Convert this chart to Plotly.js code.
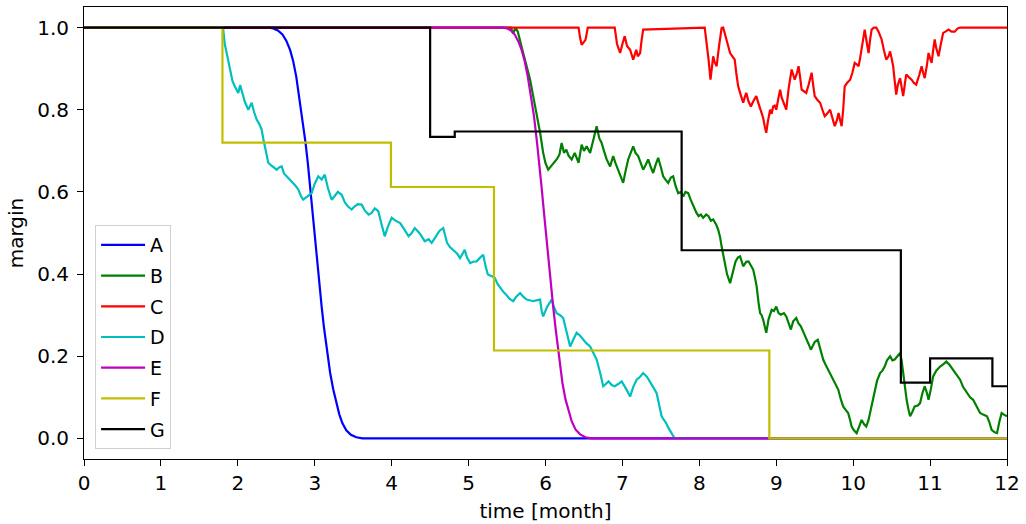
<!DOCTYPE html>
<html>
<head>
<meta charset="utf-8">
<script src="https://cdn.plot.ly/plotly-3.0.1.min.js"></script>
<style>html,body{margin:0;padding:0;background:#fff;}#chart{width:1026px;height:524px;}</style>
</head>
<body>
<div id="chart"></div>
<script>
// Series A (blue)
const A_x = [0, 2.4, 2.46, 2.52, 2.58, 2.63, 2.68, 2.72, 2.76, 2.8, 2.84, 2.88, 2.91, 2.94, 2.97, 3.0, 3.03, 3.06, 3.09, 3.12, 3.16, 3.2, 3.24, 3.28, 3.32, 3.36, 3.41, 3.47, 3.54, 3.62, 12];
const A_y = [1, 1, 0.998, 0.993, 0.983, 0.968, 0.945, 0.918, 0.88, 0.83, 0.78, 0.72, 0.67, 0.61, 0.55, 0.49, 0.43, 0.37, 0.32, 0.27, 0.21, 0.16, 0.12, 0.085, 0.058, 0.037, 0.02, 0.009, 0.003, 0, 0];

// Series B (green)
const B_x = [0, 5.55, 5.58, 5.61, 5.64, 5.67, 5.71, 5.755, 5.8, 5.84, 5.885, 5.93, 5.97, 6.0, 6.035, 6.06, 6.08, 6.11, 6.145, 6.18, 6.21, 6.24, 6.27, 6.3, 6.34, 6.38, 6.43, 6.47, 6.5, 6.535, 6.58, 6.62, 6.665, 6.7, 6.73, 6.76, 6.795, 6.84, 6.88, 6.91, 6.946, 7.01, 7.04, 7.075, 7.14, 7.17, 7.205, 7.24, 7.27, 7.3, 7.335, 7.37, 7.4, 7.43, 7.465, 7.5, 7.53, 7.56, 7.595, 7.63, 7.66, 7.69, 7.725, 7.76, 7.79, 7.82, 7.855, 7.89, 7.92, 7.96, 7.99, 8.02, 8.05, 8.09, 8.12, 8.15, 8.18, 8.22, 8.245, 8.27, 8.29, 8.31, 8.33, 8.36, 8.4, 8.44, 8.47, 8.5, 8.53, 8.57, 8.61, 8.64, 8.67, 8.7, 8.725, 8.745, 8.77, 8.79, 8.81, 8.83, 8.87, 8.9, 8.94, 8.97, 9.0, 9.03, 9.06, 9.1, 9.13, 9.16, 9.19, 9.22, 9.26, 9.29, 9.32, 9.35, 9.39, 9.42, 9.45, 9.5, 9.54, 9.58, 9.61, 9.64, 9.675, 9.71, 9.74, 9.77, 9.806, 9.84, 9.87, 9.9, 9.935, 9.96, 9.98, 10.01, 10.045, 10.08, 10.11, 10.14, 10.17, 10.2, 10.22, 10.25, 10.28, 10.31, 10.35, 10.38, 10.41, 10.44, 10.48, 10.51, 10.54, 10.58, 10.61, 10.63, 10.65, 10.67, 10.695, 10.72, 10.74, 10.77, 10.8, 10.84, 10.87, 10.9, 10.93, 10.96, 10.98, 11.01, 11.04, 11.08, 11.13, 11.17, 11.21, 11.25, 11.3, 11.34, 11.39, 11.43, 11.48, 11.52, 11.56, 11.6, 11.65, 11.69, 11.74, 11.77, 11.8, 11.84, 11.87, 11.9, 11.93, 11.96, 12.0];
const B_y = [1, 1, 0.985, 1, 0.99, 0.97, 0.938, 0.906, 0.873, 0.833, 0.792, 0.744, 0.695, 0.67, 0.654, 0.66, 0.662, 0.67, 0.679, 0.69, 0.719, 0.695, 0.703, 0.688, 0.679, 0.695, 0.671, 0.715, 0.7, 0.711, 0.695, 0.725, 0.76, 0.73, 0.719, 0.7, 0.679, 0.662, 0.687, 0.67, 0.654, 0.622, 0.65, 0.679, 0.711, 0.695, 0.687, 0.67, 0.654, 0.665, 0.679, 0.66, 0.646, 0.665, 0.683, 0.66, 0.638, 0.63, 0.622, 0.635, 0.638, 0.615, 0.597, 0.6, 0.589, 0.6, 0.597, 0.58, 0.565, 0.55, 0.541, 0.545, 0.537, 0.545, 0.541, 0.53, 0.533, 0.52, 0.508, 0.49, 0.467, 0.45, 0.43, 0.4, 0.378, 0.41, 0.43, 0.44, 0.443, 0.419, 0.43, 0.431, 0.42, 0.411, 0.39, 0.37, 0.33, 0.305, 0.3, 0.289, 0.257, 0.29, 0.313, 0.31, 0.321, 0.305, 0.301, 0.305, 0.297, 0.28, 0.265, 0.285, 0.293, 0.28, 0.273, 0.26, 0.24, 0.23, 0.216, 0.235, 0.24, 0.21, 0.192, 0.18, 0.167, 0.155, 0.143, 0.13, 0.119, 0.095, 0.078, 0.07, 0.062, 0.045, 0.029, 0.02, 0.013, 0.03, 0.045, 0.035, 0.029, 0.045, 0.062, 0.09, 0.119, 0.14, 0.159, 0.165, 0.175, 0.19, 0.2, 0.19, 0.192, 0.2, 0.208, 0.19, 0.159, 0.13, 0.094, 0.07, 0.054, 0.065, 0.078, 0.08, 0.086, 0.11, 0.127, 0.11, 0.094, 0.12, 0.151, 0.165, 0.175, 0.18, 0.187, 0.18, 0.167, 0.155, 0.143, 0.125, 0.11, 0.1, 0.094, 0.08, 0.062, 0.058, 0.054, 0.04, 0.021, 0.015, 0.013, 0.04, 0.062, 0.058, 0.054];

// Series C (red)
const C_x = [0, 6.43, 6.45, 6.47, 6.5, 6.52, 6.55, 6.9, 6.93, 6.97, 7.0, 7.03, 7.06, 7.1, 7.14, 7.18, 7.2, 7.23, 7.25, 7.27, 8.07, 8.1, 8.12, 8.145, 8.18, 8.2, 8.225, 8.26, 8.29, 8.31, 8.33, 8.37, 8.4, 8.43, 8.46, 8.48, 8.505, 8.54, 8.57, 8.59, 8.61, 8.64, 8.67, 8.7, 8.74, 8.77, 8.8, 8.83, 8.85, 8.87, 8.89, 8.92, 8.94, 8.96, 8.98, 9.0, 9.03, 9.05, 9.07, 9.09, 9.11, 9.13, 9.16, 9.2, 9.22, 9.24, 9.27, 9.29, 9.31, 9.33, 9.36, 9.39, 9.42, 9.46, 9.48, 9.5, 9.53, 9.57, 9.6, 9.63, 9.66, 9.7, 9.73, 9.76, 9.79, 9.81, 9.83, 9.85, 9.87, 9.89, 9.92, 9.96, 9.99, 10.02, 10.05, 10.07, 10.09, 10.11, 10.13, 10.15, 10.18, 10.2, 10.22, 10.24, 10.27, 10.3, 10.33, 10.37, 10.4, 10.43, 10.46, 10.48, 10.5, 10.52, 10.54, 10.56, 10.58, 10.61, 10.63, 10.65, 10.67, 10.69, 10.72, 10.76, 10.79, 10.82, 10.86, 10.89, 10.91, 10.93, 10.96, 10.98, 11.0, 11.02, 11.04, 11.06, 11.08, 11.11, 11.14, 11.17, 11.2, 11.24, 11.28, 11.32, 11.36, 11.39, 12];
const C_y = [1, 1, 0.975, 0.958, 0.965, 0.97, 1, 1, 0.96, 0.938, 0.96, 0.979, 0.955, 0.946, 0.922, 0.946, 0.93, 0.938, 0.97, 0.995, 1, 0.96, 0.922, 0.873, 0.93, 0.915, 0.906, 0.96, 0.999, 1, 0.987, 0.96, 0.938, 0.93, 0.922, 0.89, 0.857, 0.835, 0.817, 0.83, 0.841, 0.82, 0.808, 0.82, 0.833, 0.815, 0.8, 0.78, 0.76, 0.744, 0.77, 0.8, 0.79, 0.808, 0.81, 0.8, 0.83, 0.849, 0.83, 0.817, 0.81, 0.8, 0.85, 0.898, 0.885, 0.873, 0.89, 0.906, 0.88, 0.849, 0.845, 0.841, 0.86, 0.89, 0.86, 0.833, 0.825, 0.817, 0.8, 0.784, 0.79, 0.8, 0.78, 0.76, 0.775, 0.792, 0.775, 0.76, 0.8, 0.857, 0.865, 0.873, 0.89, 0.914, 0.91, 0.906, 0.925, 0.946, 0.975, 0.995, 0.96, 0.938, 0.97, 0.995, 1, 1, 0.99, 0.971, 0.945, 0.922, 0.93, 0.942, 0.925, 0.906, 0.87, 0.837, 0.86, 0.877, 0.855, 0.833, 0.86, 0.886, 0.88, 0.873, 0.865, 0.861, 0.885, 0.906, 0.89, 0.877, 0.91, 0.938, 0.925, 0.914, 0.945, 0.971, 0.95, 0.93, 0.96, 0.987, 0.99, 0.995, 0.99, 0.99, 0.998, 1, 1];

// Series D (cyan)
const D_x = [0, 1.8, 1.81, 1.83, 1.855, 1.88, 1.9, 1.93, 1.96, 1.98, 2.006, 2.03, 2.05, 2.09, 2.136, 2.16, 2.18, 2.21, 2.245, 2.28, 2.31, 2.33, 2.353, 2.375, 2.396, 2.43, 2.47, 2.505, 2.54, 2.57, 2.6, 2.635, 2.68, 2.72, 2.75, 2.786, 2.82, 2.85, 2.88, 2.92, 2.96, 3.0, 3.046, 3.09, 3.13, 3.17, 3.22, 3.26, 3.3, 3.35, 3.39, 3.43, 3.48, 3.52, 3.56, 3.61, 3.65, 3.7, 3.74, 3.78, 3.826, 3.87, 3.91, 3.95, 4.0, 4.05, 4.11, 4.16, 4.22, 4.26, 4.3, 4.36, 4.43, 4.48, 4.52, 4.57, 4.62, 4.67, 4.72, 4.76, 4.8, 4.85, 4.89, 4.92, 4.95, 4.98, 5.02, 5.06, 5.105, 5.15, 5.19, 5.22, 5.25, 5.3, 5.34, 5.38, 5.43, 5.46, 5.49, 5.53, 5.58, 5.62, 5.67, 5.71, 5.755, 5.8, 5.84, 5.88, 5.93, 5.95, 5.97, 6.02, 6.08, 6.11, 6.145, 6.19, 6.23, 6.28, 6.32, 6.36, 6.405, 6.45, 6.49, 6.53, 6.58, 6.62, 6.665, 6.71, 6.75, 6.78, 6.82, 6.86, 6.9, 6.95, 6.99, 7.05, 7.1, 7.14, 7.185, 7.23, 7.27, 7.32, 7.36, 7.4, 7.445, 7.48, 7.51, 7.54, 7.57, 7.6, 7.64, 7.68, 12];
const D_y = [1, 1, 0.995, 0.96, 0.938, 0.915, 0.898, 0.87, 0.857, 0.85, 0.841, 0.86, 0.845, 0.82, 0.8, 0.81, 0.817, 0.795, 0.776, 0.765, 0.752, 0.73, 0.711, 0.69, 0.671, 0.665, 0.66, 0.654, 0.66, 0.662, 0.645, 0.638, 0.63, 0.622, 0.615, 0.606, 0.59, 0.581, 0.585, 0.59, 0.597, 0.62, 0.638, 0.63, 0.642, 0.61, 0.581, 0.59, 0.6, 0.593, 0.575, 0.565, 0.557, 0.565, 0.57, 0.569, 0.555, 0.545, 0.549, 0.56, 0.553, 0.52, 0.492, 0.515, 0.537, 0.53, 0.524, 0.51, 0.492, 0.5, 0.512, 0.5, 0.48, 0.485, 0.476, 0.49, 0.505, 0.512, 0.476, 0.465, 0.459, 0.45, 0.439, 0.45, 0.459, 0.44, 0.427, 0.43, 0.431, 0.44, 0.447, 0.42, 0.399, 0.395, 0.391, 0.375, 0.362, 0.355, 0.35, 0.34, 0.334, 0.345, 0.354, 0.345, 0.338, 0.336, 0.334, 0.336, 0.338, 0.31, 0.297, 0.32, 0.338, 0.32, 0.305, 0.3, 0.293, 0.255, 0.224, 0.24, 0.257, 0.25, 0.24, 0.232, 0.224, 0.21, 0.192, 0.16, 0.127, 0.132, 0.139, 0.13, 0.127, 0.133, 0.139, 0.12, 0.102, 0.125, 0.143, 0.15, 0.159, 0.15, 0.139, 0.125, 0.11, 0.08, 0.054, 0.045, 0.037, 0.025, 0.013, 0, 0];

// Series E (magenta)
const E_x = [0, 5.45, 5.5, 5.55, 5.6, 5.65, 5.69, 5.73, 5.77, 5.81, 5.85, 5.89, 5.92, 5.95, 5.98, 6.01, 6.04, 6.07, 6.1, 6.13, 6.16, 6.19, 6.22, 6.26, 6.3, 6.34, 6.39, 6.45, 6.52, 6.6, 12];
const E_y = [1, 1, 0.998, 0.993, 0.983, 0.965, 0.945, 0.918, 0.88, 0.835, 0.785, 0.72, 0.67, 0.61, 0.55, 0.49, 0.43, 0.37, 0.32, 0.27, 0.22, 0.175, 0.135, 0.095, 0.065, 0.042, 0.022, 0.01, 0.003, 0, 0];

// Series F (olive) - steps
const F_x = [0, 1.8, 3.99, 5.33, 8.91, 12];
const F_y = [1, 0.72, 0.612, 0.214, 0, 0];

// Series G (black) - steps
const G_x = [0, 4.5, 4.82, 7.77, 10.62, 11.0, 11.81, 12];
const G_y = [1, 0.734, 0.747, 0.458, 0.136, 0.195, 0.127, 0.127];

const names = ['A', 'B', 'C', 'D', 'E', 'F', 'G'];
const colors = ['#0000ff', '#008000', '#ff0000', '#00bfbf', '#bf00bf', '#bfbf00', '#000000'];
const xs = [A_x, B_x, C_x, D_x, E_x, F_x, G_x];
const ys = [A_y, B_y, C_y, D_y, E_y, F_y, G_y];
const shapes = ['linear', 'linear', 'linear', 'linear', 'linear', 'hv', 'hv'];

const traces = names.map((n, i) => ({
  x: xs[i], y: ys[i], name: n, legendgroup: n, type: 'scatter', mode: 'lines',
  line: {color: colors[i], width: 2.2, shape: shapes[i]}
}));

const axisFont = {family: 'DejaVu Sans', size: 20, color: '#000'};
const layout = {
  width: 1026, height: 524,
  margin: {l: 84, r: 19, t: 7, b: 65},
  paper_bgcolor: '#fff', plot_bgcolor: '#fff',
  font: axisFont,
  showlegend: true,
  legend: {
    x: 0.012, y: 0.022, xanchor: 'left', yanchor: 'bottom',
    bgcolor: 'rgba(255,255,255,0.8)', bordercolor: '#d0d0d0', borderwidth: 1,
    font: {family: 'DejaVu Sans', size: 19, color: '#000'},
    itemwidth: 44,
    tracegroupgap: 3
  },
  xaxis: {
    range: [0, 12], tickmode: 'linear', tick0: 0, dtick: 1,
    showgrid: false, zeroline: false,
    showline: true, mirror: true, linecolor: '#000', linewidth: 1,
    ticks: 'outside', ticklen: 6, tickcolor: '#000', tickwidth: 1,
    tickfont: axisFont, ticklabelstandoff: 0,
    title: {text: 'time [month]', font: axisFont, standoff: 9}
  },
  yaxis: {
    range: [-0.05, 1.05], tickmode: 'linear', tick0: 0, dtick: 0.2, tickformat: '.1f',
    showgrid: false, zeroline: false,
    showline: true, mirror: true, linecolor: '#000', linewidth: 1,
    ticks: 'outside', ticklen: 6, tickcolor: '#000', tickwidth: 1,
    tickfont: axisFont, ticklabelstandoff: 4,
    title: {text: 'margin', font: axisFont, standoff: 8}
  }
};

Plotly.newPlot('chart', traces, layout, {displayModeBar: false, staticPlot: true});
</script>
</body>
</html>
